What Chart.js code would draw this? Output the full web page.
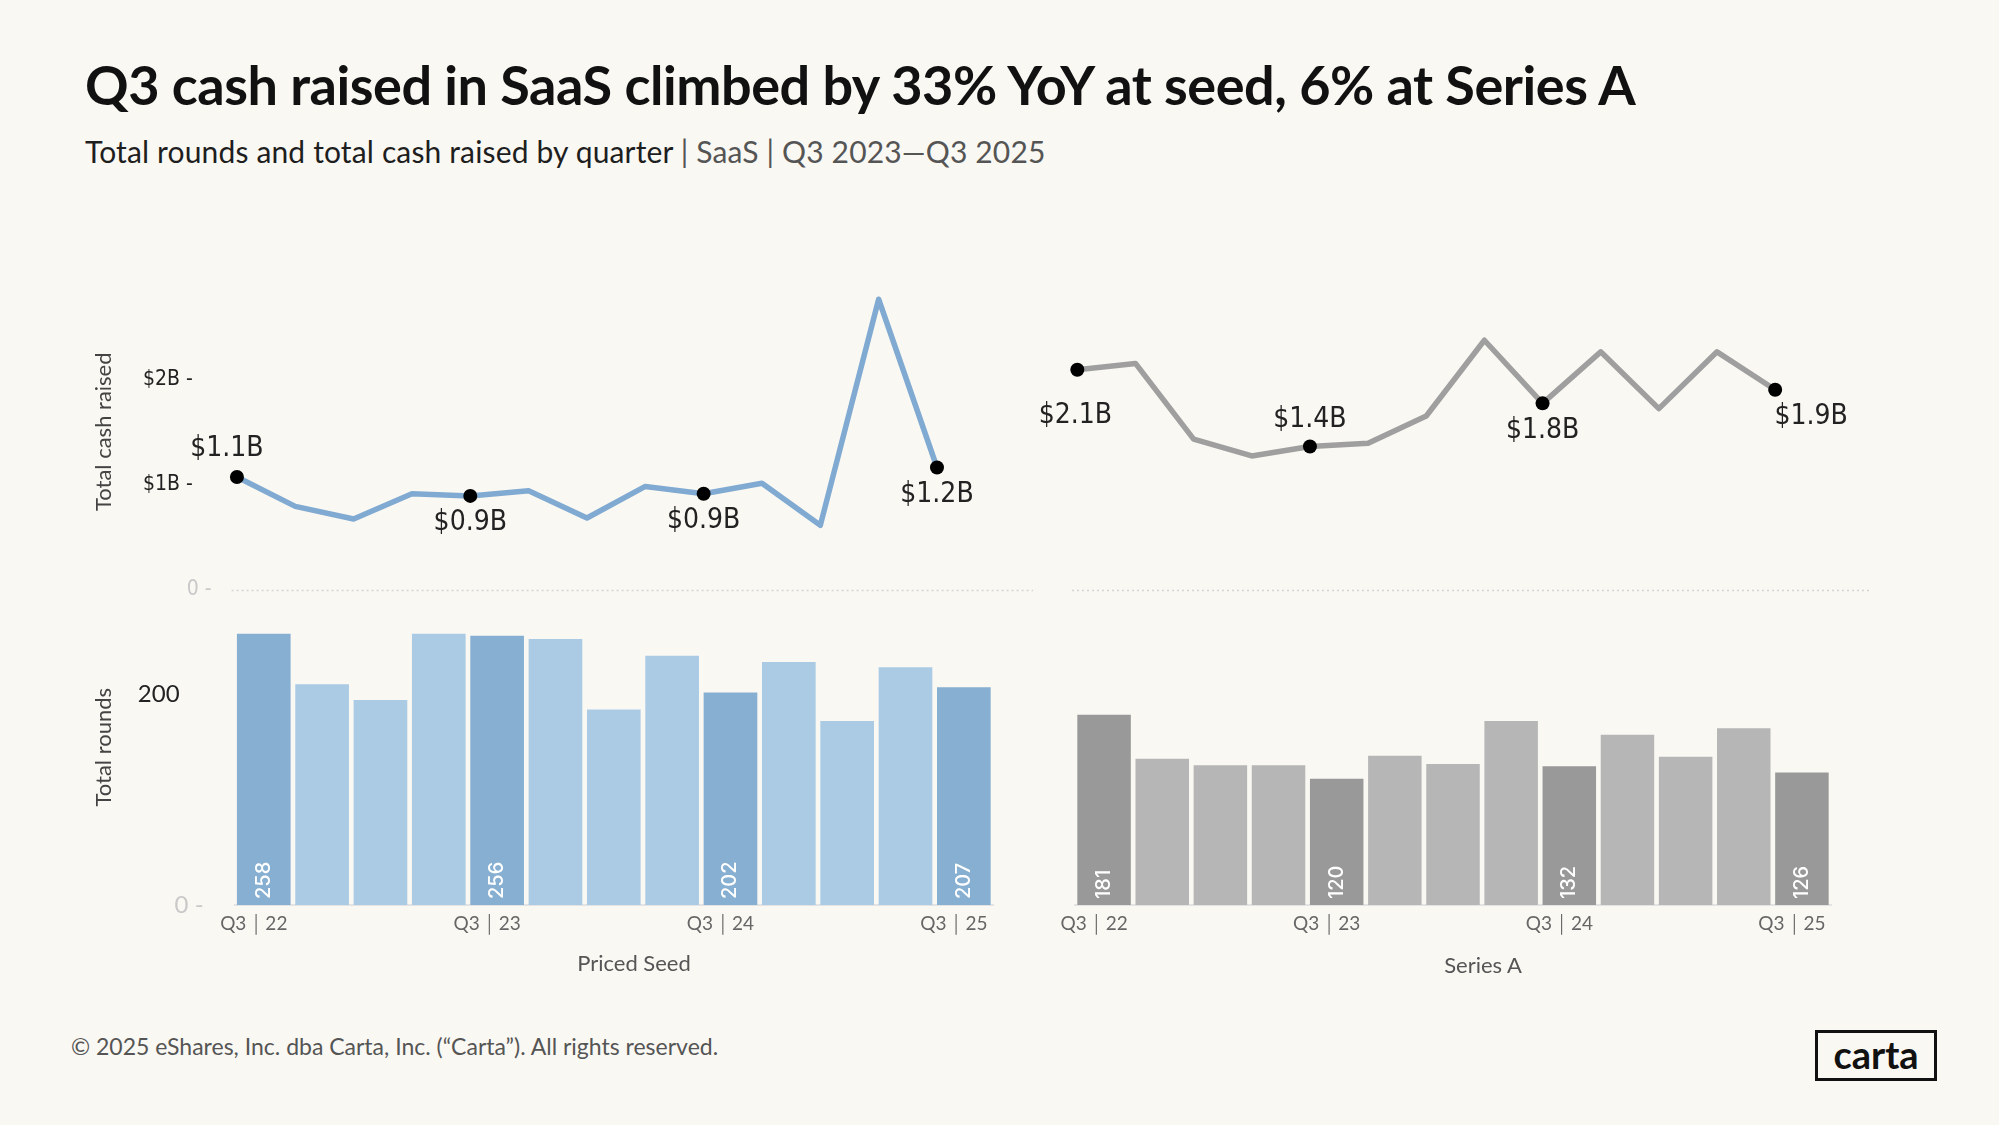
<!DOCTYPE html>
<html>
<head>
<meta charset="utf-8">
<script src="https://cdn.jsdelivr.net/npm/chart.js@4.4.1/dist/chart.umd.min.js"></script>
<style>
  body { margin: 0; width: 1999px; height: 1125px; background: #faf8f3; position: relative; overflow: hidden; font-family: Lato, sans-serif; }
  #title { position: absolute; left: 85px; top: 58px; font-size: 54px; line-height: 1; font-weight: 700; letter-spacing: -0.45px; color: #111; white-space: nowrap; }
  #sub { position: absolute; left: 85px; top: 136px; font-size: 30px; line-height: 1; color: #1e1e1e; letter-spacing: 0.15px; white-space: nowrap; }
  #sub span { color: #555; }
  #foot { position: absolute; left: 71px; top: 1035px; font-size: 23px; line-height: 1; color: #555; white-space: nowrap; }
  #logo { position: absolute; left: 1815px; top: 1030px; width: 116px; height: 45px; border: 3px solid #111; font-size: 38px; line-height: 42px; text-align: center; color: #111; font-weight: 700; }
  .xname { position: absolute; top: 950px; width: 400px; margin-left: -200px; text-align: center; font-size: 22px; line-height: 26px; color: #555; }
  canvas { position: absolute; }
</style>
</head>
<body>
<div id="title">Q3 cash raised in SaaS climbed by 33% YoY at seed, 6% at Series A</div>
<div id="sub">Total rounds and total cash raised by quarter <span>| SaaS | Q3 2023—Q3 2025</span></div>
<div id="foot">© 2025 eShares, Inc. dba Carta, Inc. (“Carta”). All rights reserved.</div>
<div id="logo">carta</div>
<canvas id="seed" width="963" height="750" style="left:70px;top:250px"></canvas>
<canvas id="seriesA" width="870" height="750" style="left:1040px;top:250px"></canvas>
<div class="xname" style="left:634px">Priced Seed</div>
<div class="xname" style="left:1483px;top:952px">Series A</div>
<script>
// quarters Q3 2022 .. Q3 2025
const quarters = ['Q3 22', 'Q4 22', 'Q1 23', 'Q2 23', 'Q3 23', 'Q4 23', 'Q1 24', 'Q2 24', 'Q3 24', 'Q4 24', 'Q1 25', 'Q2 25', 'Q3 25'];

// total cash raised, $B
const seedCash = [1.07, 0.79, 0.67, 0.91, 0.89, 0.94, 0.68, 0.98, 0.91, 1.01, 0.61, 2.76, 1.16];
const seriesACash = [2.09, 2.15, 1.43, 1.27, 1.36, 1.39, 1.65, 2.37, 1.77, 2.26, 1.72, 2.26, 1.90];

// total rounds
const seedRounds = [258, 210, 195, 258, 256, 253, 186, 237, 202, 231, 175, 226, 207];
const seriesARounds = [181, 139, 133, 133, 120, 142, 134, 175, 132, 162, 141, 168, 126];

const cashTicks = [0, 1, 2];
const roundTicks = [0, 200];

Chart.defaults.font.family = 'Lato, sans-serif';
const narrow = '"Liberation Sans Narrow", "DejaVu Sans Condensed", sans-serif';
const isQ3 = i => quarters[i].startsWith('Q3');
const fmtB = v => '$' + v.toFixed(1) + 'B';
const gap = '\u2002\u2002'; // non-zero labels sit further left than the 0 label

const marksPlugin = {
  id: 'marks',
  beforeDatasetsDraw(chart) {
    // dotted zero rule under the cash line, a little wider than the plot
    const y = Math.round(chart.scales.yCash.getPixelForValue(0)) + 0.5;
    const a = chart.chartArea;
    const ctx = chart.ctx;
    ctx.save();
    ctx.strokeStyle = '#d4d4d4';
    ctx.lineWidth = 1.5;
    ctx.setLineDash([2, 3]);
    ctx.beginPath();
    ctx.moveTo(a.left - 3, y);
    ctx.lineTo(a.right + 40, y);
    ctx.stroke();
    ctx.restore();
  },
  afterDatasetsDraw(chart, args, opts) {
    const ctx = chart.ctx;
    const lineMeta = chart.getDatasetMeta(0);
    const barMeta = chart.getDatasetMeta(1);
    const cash = chart.data.datasets[0].data;
    const rounds = chart.data.datasets[1].data;
    ctx.save();
    ctx.font = '28px ' + narrow;
    ctx.fillStyle = '#222';
    ctx.textAlign = 'center';
    ctx.textBaseline = 'middle';
    let k = 0;
    lineMeta.data.forEach((pt, i) => {
      if (!isQ3(i)) return;
      const p = opts.place[k++];
      ctx.fillText(fmtB(cash[i].y), pt.x + p[0], pt.y + p[1]);
    });
    ctx.font = '500 20px Inter, sans-serif';
    ctx.fillStyle = '#ffffff';
    ctx.textAlign = 'left';
    barMeta.data.forEach((bar, i) => {
      if (!isQ3(i)) return;
      ctx.save();
      ctx.translate(bar.x, bar.base - 6);
      ctx.rotate(-Math.PI / 2);
      ctx.fillText(String(rounds[i]), 0, 0);
      ctx.restore();
    });
    ctx.restore();
  }
};

function fixY(showY) {
  return s => {
    s.width = showY ? 164.6 : 0;
    s.paddingTop = 0;
    s.paddingBottom = 0;
  };
}

function makePanel(id, cash, rounds, colors, showY, pad, place) {
  const yTickColor = c => c.tick.value === 0 ? '#c9c9c9' : '#222';
  new Chart(document.getElementById(id), {
    data: {
      datasets: [{
        type: 'line',
        xAxisID: 'xl',
        yAxisID: 'yCash',
        data: cash.map((v, i) => ({ x: i, y: v })),
        borderColor: colors.line,
        borderWidth: 5.5,
        borderJoinStyle: 'round',
        tension: 0,
        clip: false,
        pointRadius: c => isQ3(c.dataIndex) ? 7 : 0,
        pointBackgroundColor: '#000',
        pointBorderWidth: 0
      }, {
        type: 'bar',
        xAxisID: 'x',
        yAxisID: 'yRounds',
        data: rounds,
        grouped: false,
        backgroundColor: c => isQ3(c.dataIndex) ? colors.dark : colors.light,
        barPercentage: 0.92,
        categoryPercentage: 1
      }]
    },
    options: {
      responsive: false,
      animation: false,
      events: [],
      devicePixelRatio: 1,
      layout: { padding: pad },
      plugins: { legend: { display: false }, tooltip: { enabled: false }, marks: { place: place } },
      scales: {
        x: {
          type: 'category',
          labels: quarters,
          offset: true,
          grid: { display: false, drawTicks: false },
          border: { display: true, color: '#e3e3e3', width: 2 },
          ticks: {
            autoSkip: false, maxRotation: 0, padding: 7, labelOffset: -10,
            color: '#666', font: { size: 19 },
            callback: (v, i) => isQ3(i) ? quarters[i].replace(' ', '\u2009\u2502\u2009') : ''
          },
          afterFit: s => { s.height = 95; }
        },
        xl: { type: 'linear', display: false, min: -0.04, max: quarters.length - 0.04 },
        yCash: {
          type: 'linear', position: 'left', stack: 'panel', stackWeight: 1, weight: 2,
          min: 0, max: 3,
          afterBuildTicks: s => { s.ticks = cashTicks.map(v => ({ value: v })); },
          grid: { display: false, drawTicks: false },
          border: { display: false },
          ticks: {
            display: showY, padding: 23, color: yTickColor,
            font: { size: 21, family: narrow },
            callback: v => v === 0 ? '0 -' : '$' + v + 'B -' + gap
          },
          title: { display: showY, text: 'Total cash raised', color: '#444', font: { size: 22 }, padding: { top: 21 } },
          afterFit: fixY(showY)
        },
        yRounds: {
          type: 'linear', position: 'left', stack: 'panel', stackWeight: 1, weight: 1,
          min: 0, max: 300,
          afterBuildTicks: s => { s.ticks = roundTicks.map(v => ({ value: v })); },
          grid: { display: false, drawTicks: false },
          border: { display: false },
          ticks: {
            display: showY, padding: 31, color: yTickColor,
            font: { size: 24 },
            callback: v => v === 0 ? '0 -' : String(v) + gap
          },
          title: { display: showY, text: 'Total rounds', color: '#444', font: { size: 22 }, padding: { top: 21 } },
          afterFit: fixY(showY)
        }
      }
    },
    plugins: [marksPlugin]
  });
}

makePanel('seed', seedCash, seedRounds,
  { line: '#80aad1', dark: '#86afd1', light: '#abcbe5' }, true,
  { top: 24, right: 40, left: 0, bottom: 0 },
  [[-10, -28], [0, 27], [0, 27], [0, 27]]);

makePanel('seriesA', seriesACash, seriesARounds,
  { line: '#9f9f9f', dark: '#999999', light: '#b6b6b6' }, false,
  { top: 24, right: 79, left: 35, bottom: 0 },
  [[-2, 46], [0, -27], [0, 27], [36, 27]]);
</script>
</body>
</html>
